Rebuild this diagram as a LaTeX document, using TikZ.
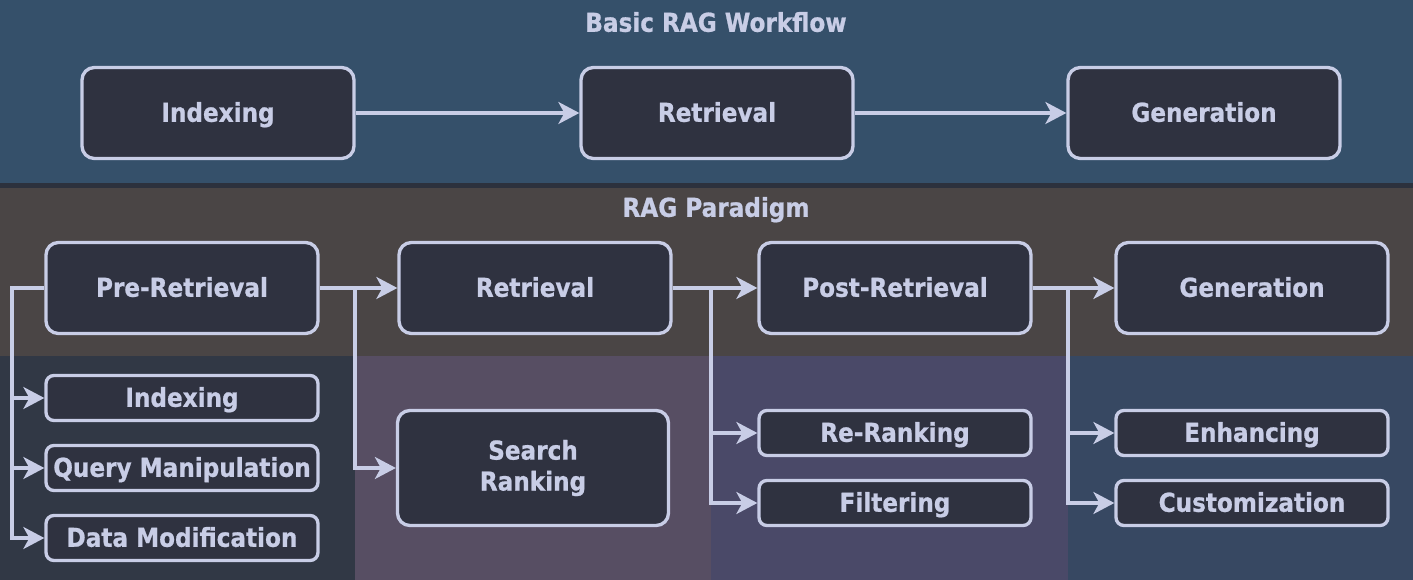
\documentclass[tikz,border=0pt]{standalone}
\usepackage{fontspec}
\setmainfont{DejaVu Sans}[FakeStretch=0.89, BoldFeatures={FakeBold=0.8}]
\usetikzlibrary{arrows.meta}
\definecolor{topband}{HTML}{35506A}
\definecolor{sepband}{HTML}{2C313D}
\definecolor{midband}{HTML}{4A4545}
\definecolor{quadA}{HTML}{313845}
\definecolor{quadB}{HTML}{574E63}
\definecolor{quadC}{HTML}{4A4968}
\definecolor{quadD}{HTML}{374862}
\definecolor{boxfill}{HTML}{2F3240}
\definecolor{edge}{HTML}{C8CDE6}

\begin{document}
\begin{tikzpicture}[x=0.02cm, y=-0.02cm,
  frame/.style={draw=edge, fill=boxfill, line width=1.9pt, rounded corners=7pt, text=edge, align=center, font=\bfseries\fontsize{14.8}{17.6}\selectfont, minimum width=5.44cm, minimum height=1.82cm, inner sep=0pt},
  box/.style={frame, text height=10.8pt, text depth=0.8pt},
  small/.style={box, minimum height=0.90cm, rounded corners=4.5pt},
  arr/.style={draw=edge, line width=1.8pt, -{Stealth[length=0.42cm, width=0.44cm, inset=0.12cm]}},
  ttl/.style={text=edge, font=\bfseries\fontsize{14.8}{17.6}\selectfont, text height=10.8pt, text depth=0.8pt}]
\useasboundingbox (0,0) rectangle (1413,580);
\fill[topband] (0,0) rectangle (1413,183);
\fill[sepband] (0,183) rectangle (1413,188);
\fill[midband] (0,188) rectangle (1413,356);
\fill[quadA] (0,356) rectangle (355,580);
\fill[quadB] (355,356) rectangle (711,580);
\fill[quadC] (711,356) rectangle (1068,580);
\fill[quadD] (1068,356) rectangle (1413,580);
\node[ttl] (basic) at (716,23) {Basic RAG Workflow};
\node[ttl] (para) at (716,208) {RAG Paradigm};
\node[box] (idx) at (218,113) {Indexing};
\node[box] (ret) at (717,113) {Retrieval};
\node[box] (gen) at (1204,113) {Generation};
\node[box] (pre) at (182,288) {Pre-Retrieval};
\node[box] (retp) at (535,288) {Retrieval};
\node[box] (post) at (895,288) {Post-Retrieval};
\node[box] (genp) at (1252,288) {Generation};
\node[small] (sidx) at (182,398) {Indexing};
\node[small] (query) at (182,468) {Query Manipulation};
\node[small] (data) at (182,538) {Data Modification};
\node[frame, minimum width=5.42cm, minimum height=2.30cm] (search) at (533,468) {Search\\Ranking};
\node[small] (rerank) at (895,433) {Re-Ranking};
\node[small] (filter) at (895,503) {Filtering};
\node[small] (enh) at (1252,433) {Enhancing};
\node[small] (cust) at (1252,503) {Customization};
\coordinate (fork1) at (355,288);
\coordinate (fork2) at (711,288);
\coordinate (fork3) at (1068,288);
\coordinate (rail) at (12,288);
\draw[arr] (idx) -- (ret);
\draw[arr] (ret) -- (gen);
\draw[arr] (pre) -- (retp);
\draw[arr] (retp) -- (post);
\draw[arr] (post) -- (genp);
\draw[arr] (fork1) |- (search.west);
\draw[arr] (fork2) |- (rerank.west);
\draw[arr] (fork2) |- (filter.west);
\draw[arr] (fork3) |- (enh.west);
\draw[arr] (fork3) |- (cust.west);
\draw[arr] (pre.west) -- (rail) |- (data.west);
\draw[arr] (rail) |- (sidx.west);
\draw[arr] (rail) |- (query.west);
\end{tikzpicture}
\end{document}
